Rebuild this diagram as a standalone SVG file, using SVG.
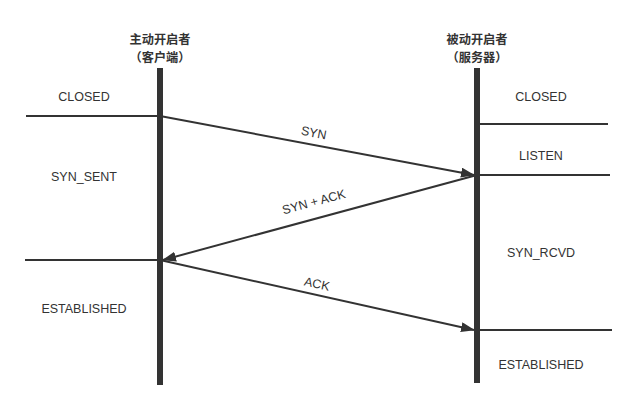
<svg xmlns="http://www.w3.org/2000/svg" width="638" height="411" viewBox="0 0 638 411">
<style>
.t{font-family:"Liberation Sans",Arial,sans-serif;font-size:12.5px;fill:#333;text-anchor:middle}
.h{font-family:"Noto Sans CJK SC","Liberation Sans",sans-serif;font-size:12.2px;fill:#333;text-anchor:middle;font-weight:bold}
.bar{fill:#333}
.ln{stroke:#333;stroke-width:2;fill:none}
.ar{stroke:#333;stroke-width:2;fill:none;marker-end:url(#ah)}
</style>
<defs>
<marker id="ah" markerUnits="userSpaceOnUse" markerWidth="14" markerHeight="10" refX="13" refY="5" orient="auto">
<path d="M0,0 L14,5 L0,10 Z" fill="#333"/>
</marker>
</defs>
<rect width="638" height="411" fill="#fff"/>
<g id="client">
<text class="h" x="160" y="44">主动开启者</text>
<text class="h" x="160" y="62">（客户端）</text>
<rect class="bar" x="157" y="68" width="6" height="317"/>
<line class="ln" x1="26" y1="116" x2="160" y2="116"/>
<line class="ln" x1="25" y1="260" x2="160" y2="260"/>
<text class="t" x="84" y="101">CLOSED</text>
<text class="t" x="84" y="181">SYN_SENT</text>
<text class="t" x="84" y="313">ESTABLISHED</text>
</g>
<g id="server">
<text class="h" x="477" y="44">被动开启者</text>
<text class="h" x="477" y="62">（服务器）</text>
<rect class="bar" x="474" y="68" width="6" height="315"/>
<line class="ln" x1="477" y1="124" x2="608" y2="124"/>
<line class="ln" x1="477" y1="175" x2="610" y2="175"/>
<line class="ln" x1="477" y1="330" x2="612" y2="330"/>
<text class="t" x="541" y="101">CLOSED</text>
<text class="t" x="541" y="160">LISTEN</text>
<text class="t" x="541" y="257">SYN_RCVD</text>
<text class="t" x="541" y="369">ESTABLISHED</text>
</g>
<g id="connectors">
<line class="ar" x1="160" y1="116" x2="474" y2="175"/>
<line class="ar" x1="477" y1="175" x2="163" y2="260"/>
<line class="ar" x1="160" y1="260" x2="474" y2="330"/>
<text class="t" transform="translate(313,137) rotate(10.7)">SYN</text>
<text class="t" transform="translate(315,206) rotate(-15)">SYN + ACK</text>
<text class="t" transform="translate(316,288) rotate(12.5)">ACK</text>
</g>
</svg>
